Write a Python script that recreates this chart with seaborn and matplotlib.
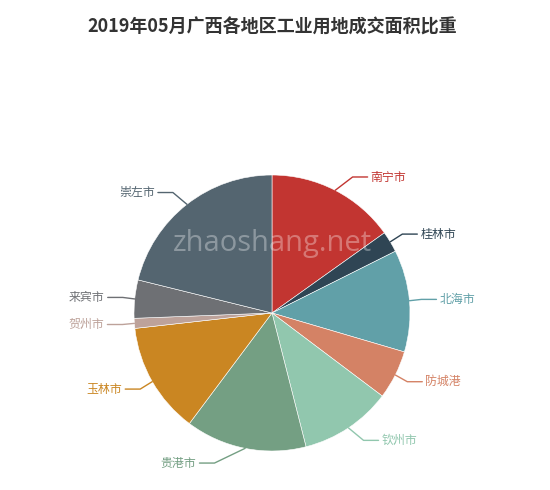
import numpy as np
import matplotlib
matplotlib.use("Agg")
import matplotlib.pyplot as plt
import seaborn as sns

# data (share of area, %)
cities = ["南宁市", "桂林市", "北海市", "防城港", "钦州市", "贵港市", "玉林市", "贺州市", "来宾市", "崇左市"]
shares = [15.14, 2.47, 11.94, 5.72, 10.76, 14.18, 13.00, 1.17, 4.47, 21.14]
colors = ["#c23531", "#2f4554", "#61a0a8", "#d48265", "#91c7ae",
          "#749f83", "#ca8622", "#bda29a", "#6e7074", "#546570"]
title = "2019年05月广西各地区工业用地成交面积比重"

sns.set_theme(style="white")
plt.rcParams["font.family"] = ["Noto Sans CJK SC", "DejaVu Sans"]

W, H = 550, 490
cx, cy, r = 272, 313, 138   # pixels, y down
len1, len2 = 15, 15         # label line lengths
text_h = 16

fig = plt.figure(figsize=(5.5, 4.9), dpi=100)
fig.patch.set_facecolor("white")
ax = fig.add_axes([0, 0, 1, 1])
palette = sns.color_palette(colors)
wedges, _ = ax.pie(shares, colors=palette, startangle=90, counterclock=False,
                   radius=r, center=(cx, H - cy),
                   wedgeprops=dict(edgecolor="white", linewidth=0.4))
ax.set_xlim(0, W)
ax.set_ylim(0, H)
ax.axis("off")

# label layout, like echarts does it
labels = []
for w, name, col in zip(wedges, cities, colors):
    mid = np.deg2rad((w.theta1 + w.theta2) / 2)
    dx, dy = np.cos(mid), -np.sin(mid)
    labels.append(dict(name=name, col=col, x1=cx + r * dx, y1=cy + r * dy,
                       y=cy + (r + len1) * dy, dir=1 if dx >= 0 else -1))

for side in (1, -1):
    lst = sorted([l for l in labels if l["dir"] == side], key=lambda l: l["y"])
    last = -1e9
    for l in lst:
        if l["y"] < last + text_h:
            l["y"] = last + text_h
        last = l["y"]
    R = r + len1 + len2
    for part, down in (([l for l in lst if l["y"] < cy]), False), (([l for l in lst if l["y"] >= cy]), True):
        last_dx = 1e9 if down else 0
        for l in part:
            d = abs(l["y"] - cy)
            ddx = np.sqrt(R ** 2 - d ** 2) if d < r + len1 else abs(l["x1"] - cx)
            if down and ddx >= last_dx:
                ddx = last_dx - 10
            if not down and ddx <= last_dx:
                ddx = last_dx + 10
            l["x"] = cx + ddx * side
            last_dx = ddx

for l in labels:
    s = l["dir"]
    xs = [l["x1"], l["x"] - s * 18, l["x"] - s * 3]
    ys = [l["y1"], l["y"], l["y"]]
    ax.plot(xs, [H - v for v in ys], color=l["col"], lw=1)
    ax.text(l["x"], H - l["y"], l["name"], color=l["col"], fontsize=8.6,
            ha="left" if s > 0 else "right", va="center")

# watermark
ax.text(cx, H - 243, "zhaoshang.net", fontsize=21, color="white", alpha=0.33,
        ha="center", va="center", family=["Open Sans", "DejaVu Sans"])

fig.text(272 / W, 1 - 27 / H, title, ha="center", va="center",
         fontsize=13, fontweight="bold", color="#333333")

fig.savefig("out.png", dpi=100, facecolor="white")
